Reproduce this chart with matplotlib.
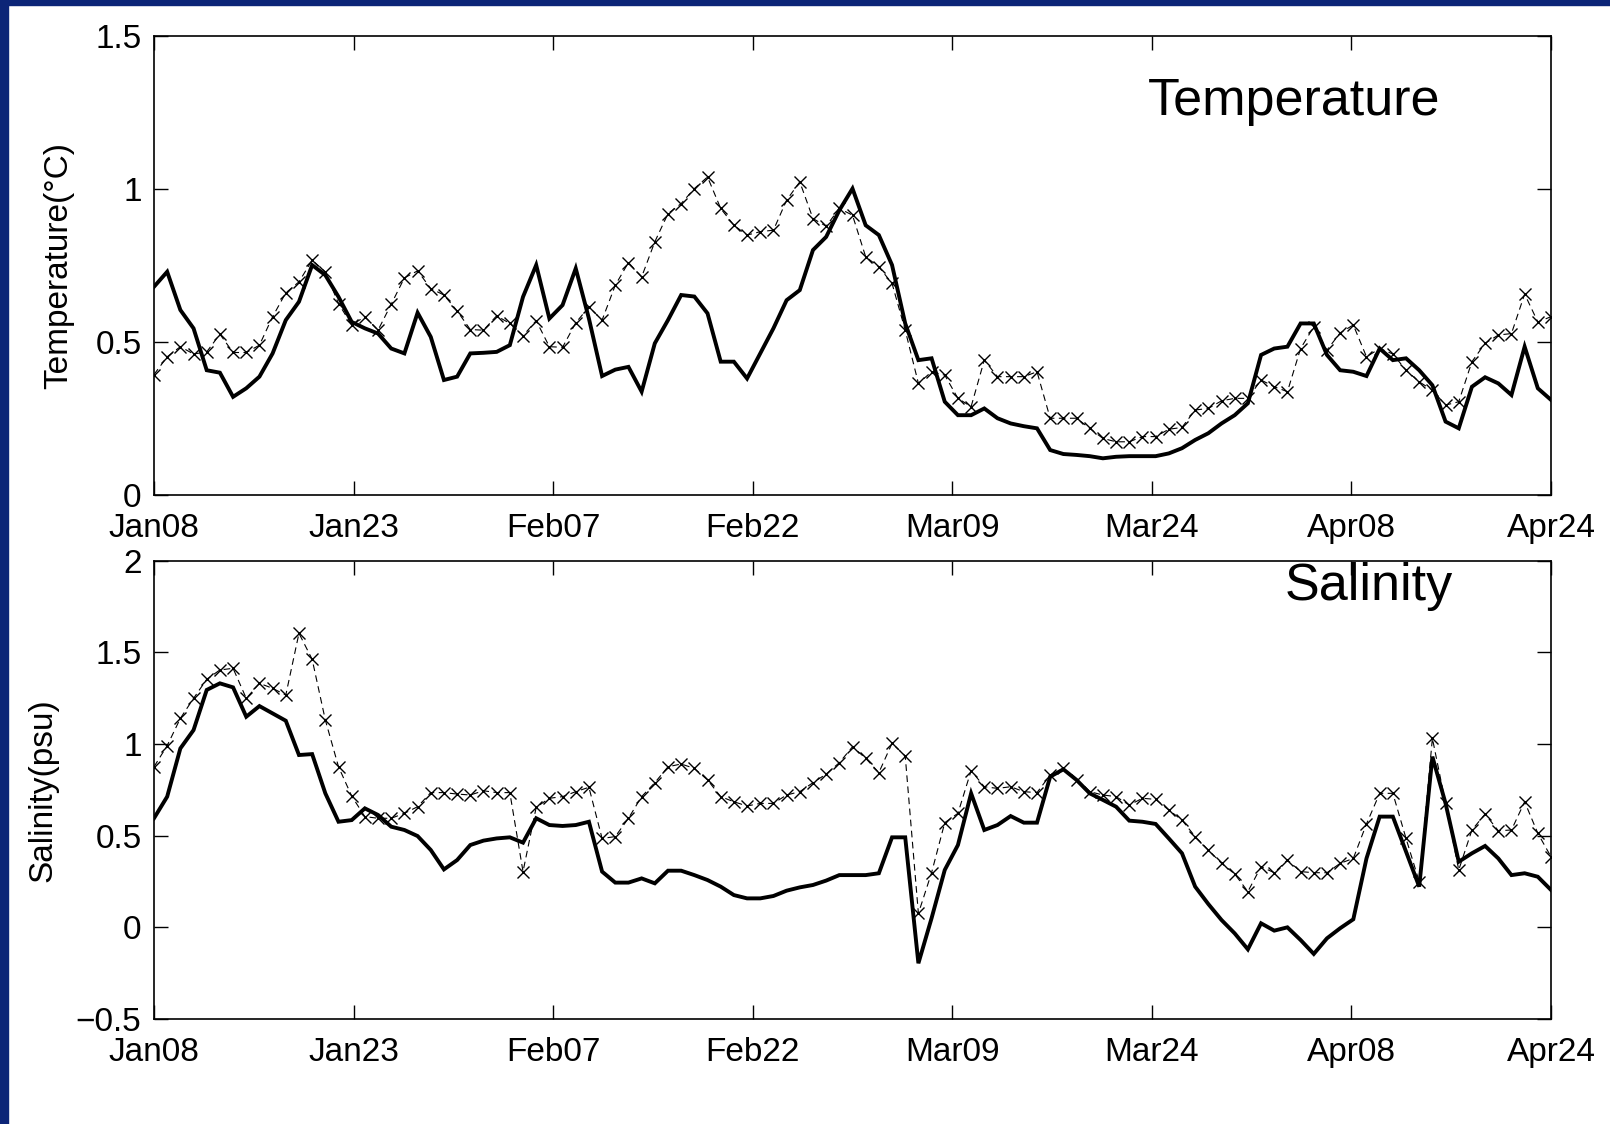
import matplotlib
matplotlib.use("Agg")
import matplotlib.pyplot as plt
import numpy as np
from matplotlib.patches import Rectangle

plt.rcParams['font.family'] = ['Liberation Sans', 'DejaVu Sans']

W, H = 1610, 1124
navy = "#0c2577"

# x axis: days after Jan08, one value per day
tick_labels = ["Jan08", "Jan23", "Feb07", "Feb22", "Mar09", "Mar24", "Apr08", "Apr24"]

# temperature, solid line
temp_solid = [0.681, 0.730, 0.605, 0.545, 0.408, 0.400, 0.321, 0.349, 0.387, 0.463,
              0.572, 0.632, 0.752, 0.719, 0.648, 0.566, 0.545, 0.528, 0.479, 0.463,
              0.596, 0.517, 0.376, 0.387, 0.463, 0.465, 0.468, 0.490, 0.648, 0.752,
              0.577, 0.621, 0.741, 0.577, 0.389, 0.410, 0.419, 0.338, 0.496, 0.572,
              0.654, 0.649, 0.594, 0.436, 0.436, 0.381, 0.463, 0.545, 0.637, 0.670,
              0.801, 0.844, 0.931, 1.002, 0.882, 0.850, 0.752, 0.561, 0.441, 0.447,
              0.305, 0.261, 0.261, 0.283, 0.251, 0.234, 0.225, 0.218, 0.147, 0.134,
              0.131, 0.127, 0.120, 0.125, 0.127, 0.127, 0.127, 0.136, 0.153, 0.180,
              0.202, 0.234, 0.261, 0.300, 0.458, 0.479, 0.485, 0.561, 0.561, 0.458,
              0.408, 0.403, 0.389, 0.479, 0.441, 0.447, 0.408, 0.359, 0.240, 0.218,
              0.354, 0.385, 0.365, 0.327, 0.485, 0.349, 0.311]

# temperature, dashed line with x markers
temp_dashed = [0.394, 0.452, 0.485, 0.461, 0.468, 0.526, 0.466, 0.466, 0.490, 0.583,
               0.661, 0.697, 0.768, 0.730, 0.626, 0.556, 0.583, 0.539, 0.624, 0.710,
               0.733, 0.675, 0.654, 0.602, 0.541, 0.539, 0.586, 0.561, 0.521, 0.570,
               0.485, 0.483, 0.563, 0.615, 0.572, 0.686, 0.760, 0.713, 0.828, 0.920,
               0.953, 1.002, 1.040, 0.937, 0.882, 0.850, 0.861, 0.866, 0.964, 1.024,
               0.904, 0.879, 0.937, 0.915, 0.779, 0.746, 0.692, 0.539, 0.365, 0.403,
               0.392, 0.316, 0.289, 0.441, 0.387, 0.387, 0.387, 0.403, 0.251, 0.251,
               0.251, 0.218, 0.185, 0.174, 0.174, 0.191, 0.191, 0.215, 0.221, 0.278,
               0.283, 0.308, 0.316, 0.316, 0.376, 0.354, 0.338, 0.479, 0.550, 0.474,
               0.530, 0.556, 0.452, 0.479, 0.461, 0.408, 0.370, 0.343, 0.294, 0.305,
               0.436, 0.496, 0.523, 0.528, 0.657, 0.566, 0.583]

# salinity, solid line
sal_solid = [0.595, 0.713, 0.976, 1.076, 1.295, 1.331, 1.309, 1.149, 1.207, 1.167,
             1.127, 0.940, 0.945, 0.731, 0.576, 0.585, 0.649, 0.613, 0.549, 0.531,
             0.498, 0.422, 0.316, 0.367, 0.449, 0.473, 0.485, 0.491, 0.462, 0.595,
             0.558, 0.553, 0.558, 0.576, 0.304, 0.244, 0.244, 0.267, 0.240, 0.309,
             0.309, 0.285, 0.258, 0.222, 0.176, 0.158, 0.158, 0.171, 0.200, 0.218,
             0.231, 0.255, 0.285, 0.285, 0.285, 0.295, 0.491, 0.491, -0.196, 0.050,
             0.313, 0.449, 0.731, 0.531, 0.558, 0.607, 0.571, 0.571, 0.822, 0.862,
             0.804, 0.731, 0.695, 0.658, 0.582, 0.576, 0.564, 0.485, 0.404, 0.222,
             0.127, 0.040, -0.033, -0.120, 0.022, -0.018, 0.000, -0.069, -0.145, -0.060,
             -0.005, 0.044, 0.376, 0.604, 0.604, 0.413, 0.222, 0.931, 0.676, 0.358,
             0.404, 0.444, 0.376, 0.285, 0.295, 0.276, 0.204]

# salinity, dashed line with x markers
sal_dashed = [0.876, 0.991, 1.140, 1.249, 1.353, 1.404, 1.413, 1.249, 1.331, 1.304,
              1.267, 1.604, 1.462, 1.131, 0.876, 0.716, 0.604, 0.595, 0.595, 0.622,
              0.658, 0.735, 0.735, 0.727, 0.722, 0.745, 0.735, 0.735, 0.304, 0.655,
              0.704, 0.713, 0.740, 0.764, 0.485, 0.495, 0.595, 0.713, 0.789, 0.876,
              0.891, 0.867, 0.804, 0.713, 0.685, 0.662, 0.676, 0.676, 0.722, 0.740,
              0.789, 0.836, 0.898, 0.985, 0.922, 0.844, 1.004, 0.935, 0.076, 0.298,
              0.571, 0.622, 0.855, 0.767, 0.758, 0.767, 0.740, 0.735, 0.831, 0.867,
              0.804, 0.740, 0.722, 0.713, 0.667, 0.704, 0.698, 0.640, 0.585, 0.495,
              0.422, 0.349, 0.291, 0.195, 0.331, 0.298, 0.367, 0.304, 0.298, 0.298,
              0.349, 0.376, 0.564, 0.731, 0.731, 0.485, 0.249, 1.031, 0.676, 0.313,
              0.531, 0.618, 0.527, 0.531, 0.685, 0.513, 0.385]

days = np.arange(len(temp_solid))


def px_rect(left, top, right, bottom):
    # pixel box -> figure fraction [x, y, w, h]
    return [left / W, 1 - bottom / H, (right - left) / W, (bottom - top) / H]


def style_axes(ax, yticks, ylabels):
    ax.set_xlim(0, days[-1])
    ax.set_xticks(np.linspace(0, days[-1], len(tick_labels)))
    ax.set_xticklabels(tick_labels)
    ax.set_yticks(yticks)
    ax.set_yticklabels(ylabels)
    ax.set_ylim(yticks[0], yticks[-1])
    ax.tick_params(direction="in", length=10, width=1.0, top=True, right=True,
                   labelsize=24, colors="black")
    ax.tick_params(axis="x", pad=13)
    ax.tick_params(axis="y", pad=9)
    for s in ax.spines.values():
        s.set_linewidth(1.2)
        s.set_color("black")


def draw(ax, solid, dashed):
    ax.plot(days, dashed, color="black", lw=0.8, linestyle=(0, (6, 4)),
            marker="x", markersize=9, markeredgewidth=1.0)
    ax.plot(days, solid, color="black", lw=2.8, solid_joinstyle="miter")


fig = plt.figure(figsize=(W / 100, H / 100), dpi=100)
fig.patch.set_facecolor("white")

# slide background strips
fig.patches.append(Rectangle((0, 0), 8 / W, 1, transform=fig.transFigure,
                             color=navy, zorder=0))
fig.patches.append(Rectangle((0, 1 - 5 / H), 1, 5 / H, transform=fig.transFigure,
                             color=navy, zorder=0))

ax1 = fig.add_axes(px_rect(154, 36.3, 1551, 495))
draw(ax1, temp_solid, temp_dashed)
style_axes(ax1, [0, 0.5, 1, 1.5], ["0", "0.5", "1", "1.5"])
ax1.set_ylabel("Temperature(\u00b0C)", fontsize=24, va="center")
ax1.yaxis.set_label_coords(-0.0685, 0.5)

ax2 = fig.add_axes(px_rect(154, 560.7, 1551, 1019))
draw(ax2, sal_solid, sal_dashed)
style_axes(ax2, [-0.5, 0, 0.5, 1, 1.5, 2], ["\u22120.5", "0", "0.5", "1", "1.5", "2"])
ax2.set_ylabel("Salinity(psu)", fontsize=24, va="center")
ax2.yaxis.set_label_coords(-0.0795, 0.5)

fig.text(1148 / W, 1 - 115 / H, "Temperature", fontsize=37.5, ha="left",
         va="baseline")
fig.text(1285 / W, 1 - 600 / H, "Salinity", fontsize=37.5, ha="left",
         va="baseline")

fig.savefig("out.png", dpi=100)
